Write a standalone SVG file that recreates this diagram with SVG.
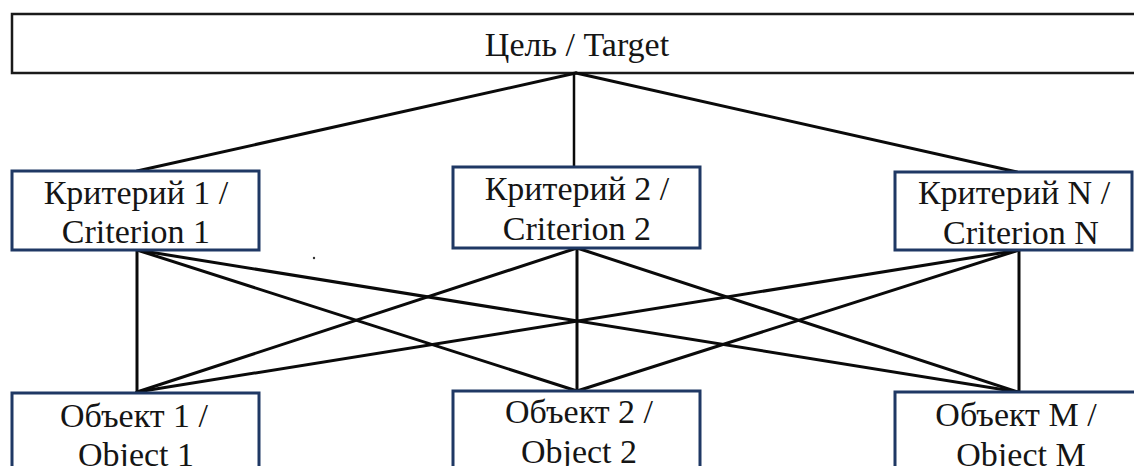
<svg xmlns="http://www.w3.org/2000/svg" width="1134" height="466" viewBox="0 0 1134 466">
<style>
.top{fill:#fff;stroke:#1a1a1a;stroke-width:2.5}
.box{fill:#fff;stroke:#1f3864;stroke-width:3}
.lbl{font-family:"Liberation Serif","Times New Roman",serif;font-size:34px;fill:#151515;text-anchor:middle}
.con line{stroke:#0a0a0a;stroke-width:3;stroke-linecap:round}
</style>
<rect width="1134" height="466" fill="#fff"/>
<g id="target">
<rect class="top" x="12" y="14" width="1140" height="59"/>
<text class="lbl" x="577" y="56">Цель / Target</text>
</g>
<g id="connectors" class="con">
<line x1="576" y1="73" x2="137" y2="171"/>
<line x1="574" y1="73" x2="574" y2="167" style="stroke-width:2.5"/>
<line x1="576" y1="73" x2="1017" y2="172"/>
<line x1="137" y1="250" x2="137" y2="392"/>
<line x1="137" y1="250" x2="577" y2="391"/>
<line x1="137" y1="250" x2="1018" y2="392"/>
<line x1="577" y1="248" x2="137" y2="392"/>
<line x1="577" y1="248" x2="577" y2="391"/>
<line x1="577" y1="248" x2="1018" y2="392"/>
<line x1="1019" y1="250" x2="137" y2="392"/>
<line x1="1019" y1="250" x2="577" y2="391"/>
<line x1="1019" y1="250" x2="1019" y2="392"/>
</g>
<g id="criterion1">
<rect class="box" x="12" y="171" width="247" height="79"/>
<text class="lbl" x="136" y="204">Критерий 1 /</text>
<text class="lbl" x="136" y="243">Criterion 1</text>
</g>
<g id="criterion2">
<rect class="box" x="453" y="167" width="247" height="81"/>
<text class="lbl" x="577" y="200">Критерий 2 /</text>
<text class="lbl" x="577" y="240">Criterion 2</text>
</g>
<g id="criterionN">
<rect class="box" x="895" y="172" width="237" height="78"/>
<text class="lbl" x="1014" y="204">Критерий N /</text>
<text class="lbl" x="1021" y="244">Criterion N</text>
</g>
<g id="object1">
<rect class="box" x="12" y="393" width="247" height="90"/>
<text class="lbl" x="134" y="427">Объект 1 /</text>
<text class="lbl" x="136" y="466">Object 1</text>
</g>
<g id="object2">
<rect class="box" x="453" y="391" width="247" height="92"/>
<text class="lbl" x="579" y="423">Объект 2 /</text>
<text class="lbl" x="579" y="463">Object 2</text>
</g>
<g id="objectM">
<rect class="box" x="895" y="392" width="250" height="91"/>
<text class="lbl" x="1016" y="426">Объект M /</text>
<text class="lbl" x="1021" y="466">Object M</text>
</g>
<circle cx="314" cy="258" r="1.2" fill="#333"/>
</svg>
